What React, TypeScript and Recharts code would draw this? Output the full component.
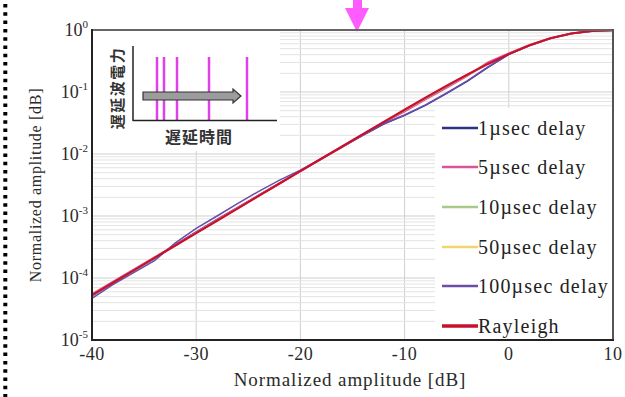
import React from 'react';
import { LineChart, Line, XAxis, YAxis, CartesianGrid, ReferenceLine, Legend } from 'recharts';

const xValues = [-40, -38, -36, -34, -32, -30, -28, -26, -24, -22, -20, -18, -16, -14, -12, -10, -8, -6, -4, -2, 0, 2, 4, 6, 8, 10];

const delay1 = [5.1e-5, 8.3e-5, 1.31e-4, 2.06e-4, 3.45e-4, 5.55e-4, 8.8e-4, 1.38e-3, 2.16e-3, 3.38e-3, 5.3e-3, 8.3e-3, 0.0129, 0.02, 0.0305, 0.042, 0.061, 0.094, 0.148, 0.25, 0.405, 0.563, 0.734, 0.878, 0.964, 0.995];
const delay5 = [5.5e-5, 8.6e-5, 1.36e-4, 2.14e-4, 3.4e-4, 5.4e-4, 8.6e-4, 1.36e-3, 2.14e-3, 3.36e-3, 5.32e-3, 8.35e-3, 0.0131, 0.0206, 0.0322, 0.049, 0.076, 0.117, 0.182, 0.298, 0.416, 0.57, 0.737, 0.879, 0.965, 0.995];
const delay10 = [5.4e-5, 8.5e-5, 1.34e-4, 2.12e-4, 3.36e-4, 5.34e-4, 8.5e-4, 1.34e-3, 2.12e-3, 3.35e-3, 5.3e-3, 8.36e-3, 0.0132, 0.0208, 0.0326, 0.0505, 0.0785, 0.121, 0.186, 0.281, 0.41, 0.567, 0.736, 0.879, 0.965, 0.995];
const delay50 = [5.2e-5, 8.3e-5, 1.32e-4, 2.1e-4, 3.33e-4, 5.28e-4, 8.38e-4, 1.33e-3, 2.1e-3, 3.33e-3, 5.28e-3, 8.35e-3, 0.0131, 0.0207, 0.0324, 0.0508, 0.0795, 0.123, 0.188, 0.283, 0.411, 0.568, 0.736, 0.879, 0.965, 0.995];
const delay100 = [4.7e-5, 7.8e-5, 1.22e-4, 1.9e-4, 3.7e-4, 6.3e-4, 1.0e-3, 1.6e-3, 2.5e-3, 3.8e-3, 5.5e-3, 8.4e-3, 0.013, 0.0203, 0.031, 0.0425, 0.062, 0.096, 0.151, 0.253, 0.406, 0.565, 0.735, 0.878, 0.964, 0.995];
const rayleigh = [5.3e-5, 8.4e-5, 1.33e-4, 2.11e-4, 3.34e-4, 5.3e-4, 8.4e-4, 1.33e-3, 2.11e-3, 3.34e-3, 5.29e-3, 8.37e-3, 0.0132, 0.0209, 0.0329, 0.0516, 0.0806, 0.125, 0.19, 0.284, 0.411, 0.568, 0.736, 0.879, 0.965, 0.995];

const xTicks = [-40, -30, -20, -10, 0, 10];
const yTicks = [1e-5, 1e-4, 1e-3, 1e-2, 1e-1, 1];
const yExponents = ['-5', '-4', '-3', '-2', '-1', '0'];
const minorDecades = [1e-5, 1e-4, 1e-3, 1e-2, 1e-1];
const minorMultipliers = [2, 3, 4, 5, 6, 7, 8, 9];
const minorTicks = minorDecades.flatMap((d) => minorMultipliers.map((m) => m * d));

const seriesNames = ['1µsec delay', '5µsec delay', '10µsec delay', '50µsec delay', '100µsec delay', 'Rayleigh'];
const seriesKeys = ['d1', 'd5', 'd10', 'd50', 'd100', 'ray'];
const seriesColors = ['#2f3185', '#d8559a', '#a9c98a', '#efd56e', '#6a4ea8', '#c8102e'];
const seriesWidths = [1.5, 2.2, 1.5, 1.5, 1.5, 2.2];

const insetTitleY = '遅延波電力';
const insetTitleX = '遅延時間';
const insetBarXs = [157, 164, 177, 209, 247];

const xTitle = 'Normalized amplitude [dB]';
const yTitle = 'Normalized amplitude [dB]';

const data = xValues.map((x, i) => ({
  x,
  d1: delay1[i],
  d5: delay5[i],
  d10: delay10[i],
  d50: delay50[i],
  d100: delay100[i],
  ray: rayleigh[i],
}));

const SERIF = '"Liberation Serif", "Times New Roman", serif';
const CJK = '"Noto Sans CJK JP", "Noto Sans CJK SC", sans-serif';

const XTick = (props: any) => {
  const { x, y, payload } = props;
  return (
    <text x={x} y={y} dy={18} textAnchor="middle" fontFamily={SERIF} fontSize={18} letterSpacing={0.5} fill="#2a2a2a">
      {payload.value}
    </text>
  );
};

const YTick = (props: any) => {
  const { x, y, payload } = props;
  const idx = yTicks.findIndex((t) => Math.abs(t - payload.value) / t < 1e-6);
  const exp = idx >= 0 ? yExponents[idx] : '';
  return (
    <text x={x} y={y} dy={6} textAnchor="end" fontFamily={SERIF} fontSize={18} fill="#2a2a2a">
      <tspan>10</tspan>
      <tspan dy={-8} fontSize={11}>{exp}</tspan>
    </text>
  );
};

const renderLegend = (props: any) => {
  const payload = [...(props.payload || [])].sort(
    (a: any, b: any) => seriesNames.indexOf(a.value) - seriesNames.indexOf(b.value)
  );
  return (
    <div style={{ width: 178, height: 231, background: '#fff' }}>
      {payload.map((p: any, i: number) => (
        <div key={i} style={{ height: 39.6, display: 'flex', alignItems: 'center', paddingLeft: 7, boxSizing: 'border-box' }}>
          <svg width={36} height={6} style={{ display: 'block' }}>
            <line x1={0} y1={3} x2={36} y2={3} stroke={p.color} strokeWidth={p.value === 'Rayleigh' ? 3.5 : 2.5} />
          </svg>
          <span style={{ fontFamily: SERIF, fontSize: 20, letterSpacing: 1.2, color: '#222', lineHeight: '20px', whiteSpace: 'nowrap' }}>
            {p.value}
          </span>
        </div>
      ))}
    </div>
  );
};

export default function App() {
  return (
    <div style={{ position: 'absolute', left: 0, top: 0, width: 625, height: 397, background: '#fff' }}>
      <LineChart width={625} height={397} data={data} margin={{ top: 30, right: 12, bottom: 27, left: 0 }}>
        {minorTicks.map((v) => (
          <ReferenceLine key={v} y={v} stroke="#e3e3e3" strokeWidth={1} ifOverflow="hidden" />
        ))}
        <CartesianGrid stroke="#cfcfcf" strokeWidth={1} />
        <XAxis
          dataKey="x"
          type="number"
          domain={[-40, 10]}
          ticks={xTicks}
          axisLine={false}
          tickLine={false}
          tickSize={0}
          tickMargin={2}
          height={30}
          tick={<XTick />}
          interval={0}
        />
        <YAxis
          type="number"
          scale="log"
          domain={[1e-5, 1]}
          ticks={yTicks}
          allowDataOverflow
          axisLine={false}
          tickLine={false}
          tickSize={0}
          tickMargin={4}
          width={92}
          tick={<YTick />}
          interval={0}
        />
        <Legend
          layout="vertical"
          align="center"
          verticalAlign="middle"
          content={renderLegend}
          wrapperStyle={{ left: 435, top: 108, width: 178, height: 231, margin: 0, padding: 0 }}
        />
        {seriesKeys.map((k, i) => (
          <Line
            key={k}
            dataKey={k}
            name={seriesNames[i]}
            stroke={seriesColors[i]}
            strokeWidth={seriesWidths[i]}
            dot={false}
            activeDot={false}
            type="linear"
            isAnimationActive={false}
          />
        ))}
      </LineChart>
      <svg width={625} height={397} style={{ position: 'absolute', left: 0, top: 0, pointerEvents: 'none', zIndex: 5 }}>
        <line x1={5.3} y1={4} x2={5.3} y2={397} stroke="#000" strokeWidth={4} strokeDasharray="3.5 4.8" />
        <polygon points="353,0 362,0 362,8 369,8 357,32 345,8 353,8" fill="#ff5cff" />
        <rect x={93} y={31} width={187} height={120} fill="#fff" />
        {insetBarXs.map((bx) => (
          <line key={bx} x1={bx} y1={57} x2={bx} y2={120} stroke="#e040e8" strokeWidth={2.5} />
        ))}
        <polygon points="143,92 233,92 233,89 241,96 233,103 233,100 143,100" fill="#9c9c9c" stroke="#333" strokeWidth={1.2} />
        <line x1={133} y1={46} x2={133} y2={121} stroke="#222" strokeWidth={1.5} />
        <line x1={133} y1={120.5} x2={277} y2={120.5} stroke="#222" strokeWidth={1.5} />
        <text transform="translate(123,88) rotate(-90)" textAnchor="middle" fontFamily={CJK} fontSize={15} fontWeight={700} letterSpacing={1.5} fill="#333">
          {insetTitleY}
        </text>
        <text x={199} y={143} textAnchor="middle" fontFamily={CJK} fontSize={16} fontWeight={700} letterSpacing={1} fill="#333">
          {insetTitleX}
        </text>
        <line x1={92} y1={30} x2={613} y2={30} stroke="#666" strokeWidth={2} />
        <line x1={613} y1={29} x2={613} y2={341} stroke="#555" strokeWidth={2} />
        <line x1={92} y1={29} x2={92} y2={341} stroke="#222" strokeWidth={2} />
        <line x1={91} y1={340} x2={614} y2={340} stroke="#222" strokeWidth={2} />
        <text x={350} y={386} textAnchor="middle" fontFamily={SERIF} fontSize={19} letterSpacing={0.9} fill="#2a2a2a">
          {xTitle}
        </text>
        <text transform="translate(41,185) rotate(-90)" textAnchor="middle" fontFamily={SERIF} fontSize={16} letterSpacing={0.7} fill="#2a2a2a">
          {yTitle}
        </text>
      </svg>
    </div>
  );
}
